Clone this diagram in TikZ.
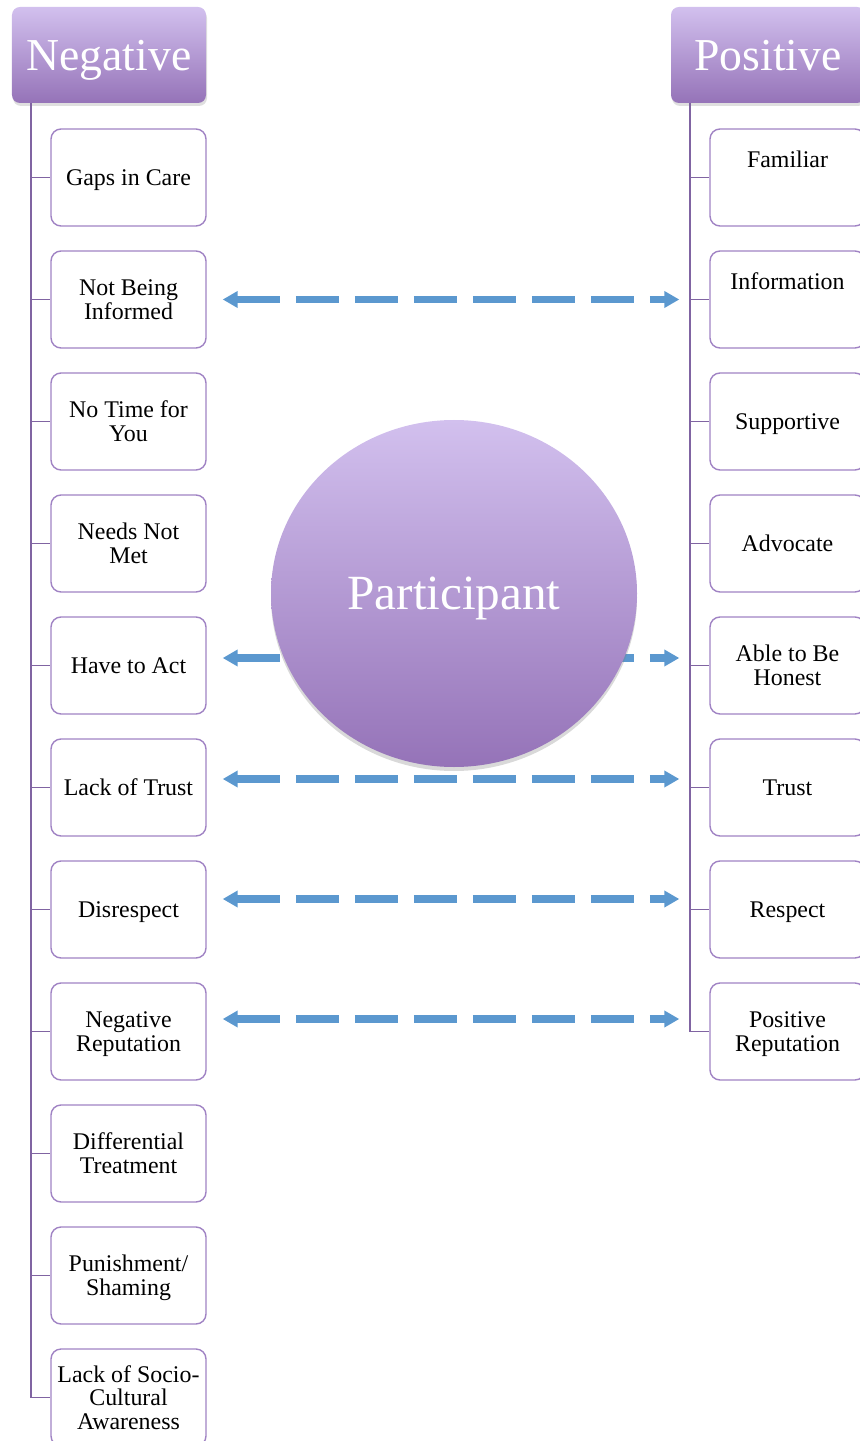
\documentclass[tikz,border=0pt]{standalone}
\usepackage{fontspec}
\setmainfont{Liberation Serif}
\usetikzlibrary{arrows.meta, positioning, shadows, shapes.geometric}
\definecolor{hdtop}{HTML}{D2C0EE}
\definecolor{hdbot}{HTML}{9573B8}
\definecolor{stempurple}{HTML}{8064A2}
\definecolor{boxpurple}{HTML}{A083C4}
\definecolor{linkblue}{HTML}{5B98CF}

\begin{document}
\begin{tikzpicture}[
    header/.style={rectangle, rounded corners=1.6mm, top color=hdtop, bottom color=hdbot, minimum width=3.88cm, minimum height=1.92cm, text=white, text depth=0pt, font=\fontsize{26}{30}\selectfont, drop shadow={opacity=0.25, shadow xshift=0.02cm, shadow yshift=-0.06cm}},
    item/.style={rectangle, rounded corners=2mm, draw=boxpurple, line width=0.8pt, fill=white, minimum width=3.1cm, minimum height=1.94cm, align=center, text depth=0pt, font=\fontsize{13.6}{13.6}\selectfont},
    stem/.style={draw=stempurple, line width=1.1pt},
    link/.style={{Triangle[length=0.3cm, width=0.32cm]}-{Triangle[length=0.3cm, width=0.32cm]}, draw=linkblue, line width=4.2pt, dash pattern=on 0.86cm off 0.32cm, shorten <=0.32cm, shorten >=0.6cm}
]
\useasboundingbox (0,0) rectangle (17.18,-28.82);

% Column headers
\node[header] (neg) at (2.18,-1.1) {Negative};
\node[header] (pos) at (15.36,-1.1) {Positive};

% Negative column
\node[item] (n1) at (2.57,-3.55) {Gaps in Care};
\node[item] (n2) at (2.57,-5.99) {Not Being\\Informed};
\node[item] (n3) at (2.57,-8.43) {No Time for\\You};
\node[item] (n4) at (2.57,-10.87) {Needs Not\\Met};
\node[item] (n5) at (2.57,-13.31) {Have to Act};
\node[item] (n6) at (2.57,-15.75) {Lack of Trust};
\node[item] (n7) at (2.57,-18.19) {Disrespect};
\node[item] (n8) at (2.57,-20.63) {Negative\\Reputation};
\node[item] (n9) at (2.57,-23.07) {Differential\\Treatment};
\node[item] (n10) at (2.57,-25.51) {Punishment/\\Shaming};
\node[item] (n11) at (2.57,-27.95) {Lack of Socio-\\Cultural\\Awareness};

% Positive column
\node[item] (p1) at (15.75,-3.55) {Familiar\\[7pt]\mbox{}};
\node[item] (p2) at (15.75,-5.99) {Information\\[7pt]\mbox{}};
\node[item] (p3) at (15.75,-8.43) {Supportive};
\node[item] (p4) at (15.75,-10.87) {Advocate};
\node[item] (p5) at (15.75,-13.31) {Able to Be\\Honest};
\node[item] (p6) at (15.75,-15.75) {Trust};
\node[item] (p7) at (15.75,-18.19) {Respect};
\node[item] (p8) at (15.75,-20.63) {Positive\\Reputation};

% Stems from the headers
\coordinate (nstem) at (0.62,-2.06);
\coordinate (pstem) at (13.8,-2.06);
\draw[stem] (nstem) |- (n11.west);
\foreach \i in {1,...,10}
    \draw[stem] (nstem |- n\i.west) -- (n\i.west);
\draw[stem] (pstem) |- (p8.west);
\foreach \i in {1,...,7}
    \draw[stem] (pstem |- p\i.west) -- (p\i.west);

% Links between opposite items
\draw[link] (n2.east) -- (p2.west);
\draw[link] ([yshift=0.15cm]n5.east) -- ([yshift=0.15cm]p5.west);
\draw[link] ([yshift=0.17cm]n6.east) -- ([yshift=0.17cm]p6.west);
\draw[link] ([yshift=0.21cm]n7.east) -- ([yshift=0.21cm]p7.west);
\draw[link] ([yshift=0.25cm]n8.east) -- ([yshift=0.25cm]p8.west);

% Centre ellipse
\node[ellipse, minimum width=7.32cm, minimum height=6.94cm, top color=hdtop, bottom color=hdbot, text=white, text depth=0pt, font=\fontsize{28}{32}\selectfont, drop shadow={opacity=0.3, shadow xshift=0cm, shadow yshift=-0.08cm}] (part) at (9.08,-11.87) {Participant};

\end{tikzpicture}
\end{document}
